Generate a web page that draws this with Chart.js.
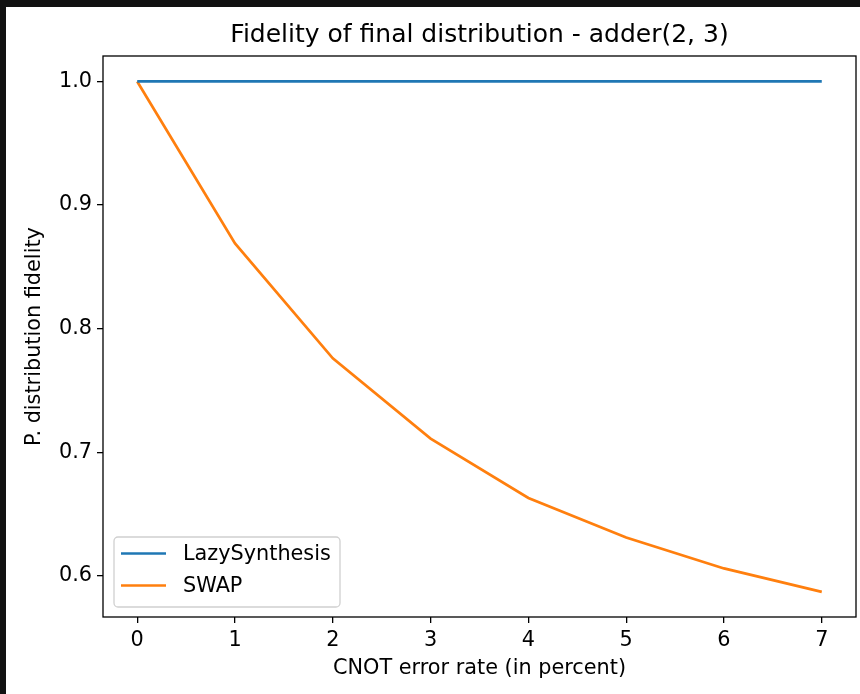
<!DOCTYPE html>
<html>
<head>
<meta charset="utf-8">
<script src="https://cdn.jsdelivr.net/npm/chart.js@4.4.1/dist/chart.umd.min.js"></script>
<style>
body{margin:0;background:#111;width:860px;height:694px;overflow:hidden;}
#wrap{position:absolute;left:6px;top:7px;width:854px;height:687px;background:#fff;}
</style>
</head>
<body>
<div id="wrap"><canvas id="chart" width="854" height="687"></canvas></div>
<script>
// data
const errorRates = [0, 1, 2, 3, 4, 5, 6, 7];
const lazyFidelity = [1.0, 1.0, 1.0, 1.0, 1.0, 1.0, 1.0, 1.0];
const swapFidelity = [1.0, 0.869, 0.776, 0.711, 0.663, 0.631, 0.606, 0.587];
const xTicks = [0, 1, 2, 3, 4, 5, 6, 7];
const yTicks = [0.6, 0.7, 0.8, 0.9, 1.0];
const seriesNames = ['LazySynthesis', 'SWAP'];
const seriesColors = ['#1f77b4', '#ff7f0e'];

const font = 'DejaVu Sans';
const textSize = 20.8;

const toPoints = (ys) => errorRates.map((x, i) => ({x: x, y: ys[i]}));

// frame round the plot (matplotlib spines)
const framePlugin = {
	id: 'frame',
	afterDatasetsDraw(chart) {
		const a = chart.chartArea;
		const ctx = chart.ctx;
		ctx.save();
		ctx.strokeStyle = '#000';
		ctx.lineWidth = 1.3;
		ctx.strokeRect(a.left, a.top, a.right - a.left, a.bottom - a.top);
		ctx.restore();
	}
};

// legend box in the lower left corner
const legendPlugin = {
	id: 'boxLegend',
	afterDraw(chart) {
		const a = chart.chartArea;
		const ctx = chart.ctx;
		const bx = a.left + 11, by = a.bottom - 80, bw = 226, bh = 70;
		ctx.save();
		ctx.beginPath();
		ctx.roundRect(bx, by, bw, bh, 4);
		ctx.fillStyle = 'rgba(255,255,255,0.8)';
		ctx.fill();
		ctx.strokeStyle = '#d0d0d0';
		ctx.lineWidth = 1.3;
		ctx.stroke();
		ctx.font = textSize + 'px "' + font + '"';
		ctx.textBaseline = 'middle';
		chart.data.datasets.forEach((ds, i) => {
			const y = by + 16.5 + i * 32;
			ctx.strokeStyle = ds.borderColor;
			ctx.lineWidth = 2.7;
			ctx.beginPath();
			ctx.moveTo(bx + 7, y);
			ctx.lineTo(bx + 52, y);
			ctx.stroke();
			ctx.fillStyle = '#000';
			ctx.fillText(ds.label, bx + 69, y + 1);
		});
		ctx.restore();
	}
};

const ctx = document.getElementById('chart').getContext('2d');
const myChart = new Chart(ctx, {
	type: 'line',
	data: {
		datasets: [
			{label: seriesNames[0], data: toPoints(lazyFidelity), borderColor: seriesColors[0], backgroundColor: seriesColors[0], borderWidth: 2.7, pointRadius: 0, tension: 0},
			{label: seriesNames[1], data: toPoints(swapFidelity), borderColor: seriesColors[1], backgroundColor: seriesColors[1], borderWidth: 2.7, pointRadius: 0, tension: 0}
		]
	},
	options: {
		responsive: false,
		animation: false,
		devicePixelRatio: 1,
		layout: {padding: {left: 0, right: 4, top: 0, bottom: 0}},
		plugins: {
			legend: {display: false},
			tooltip: {enabled: false},
			title: {
				display: true,
				fullSize: false,
				text: 'Fidelity of final distribution - adder(2, 3)',
				color: '#000',
				font: {family: font, size: 25, weight: 'normal'},
				padding: {top: 13, bottom: 6}
			}
		},
		scales: {
			x: {
				type: 'linear',
				min: -0.35,
				max: 7.35,
				afterBuildTicks: (s) => { s.ticks = xTicks.map(v => ({value: v})); },
				afterFit: (s) => { s.height = 77; },
				grid: {display: true, drawOnChartArea: false, drawTicks: true, tickLength: 6, color: '#000', lineWidth: 1.3},
				border: {display: false},
				ticks: {color: '#000', font: {family: font, size: textSize}, padding: 5, maxRotation: 0, callback: (v) => String(v)},
				title: {display: true, text: 'CNOT error rate (in percent)', color: '#000', font: {family: font, size: textSize}, padding: {top: 0, bottom: 13}}
			},
			y: {
				type: 'linear',
				min: 0.5667,
				max: 1.0206,
				afterBuildTicks: (s) => { s.ticks = yTicks.map(v => ({value: v})); },
				afterFit: (s) => { s.width = 97; },
				grid: {display: true, drawOnChartArea: false, drawTicks: true, tickLength: 6, color: '#000', lineWidth: 1.3},
				border: {display: false},
				ticks: {color: '#000', font: {family: font, size: textSize}, padding: 5, callback: (v) => v.toFixed(1)},
				title: {display: true, text: 'P. distribution fidelity', color: '#000', font: {family: font, size: textSize}, padding: {top: 16.5, bottom: 0}}
			}
		}
	},
	plugins: [framePlugin, legendPlugin]
});
</script>
</body>
</html>
